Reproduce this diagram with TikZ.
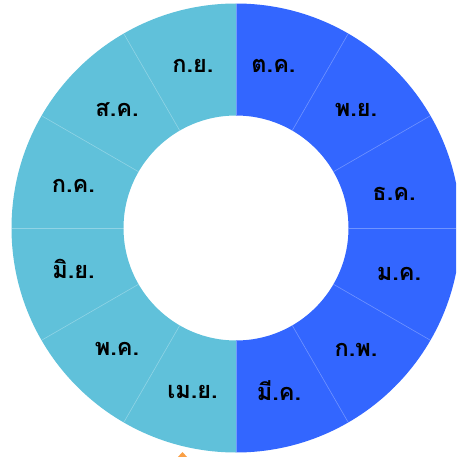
\documentclass[tikz,border=0pt]{standalone}
\usepackage{fontspec}
\newfontfamily\thaifont[Script=Thai]{Loma}
\definecolor{segblue}{RGB}{51,102,255}
\definecolor{seglight}{RGB}{96,193,218}
\definecolor{markorange}{RGB}{250,160,70}
\tikzset{
  lbl/.style={anchor=base, font=\thaifont\bfseries\fontsize{23.5}{23.5}\selectfont, text=black, inner sep=0pt},
  sep/.style={draw=white, draw opacity=0.3, line width=0.6pt}
}
\begin{document}
\begin{tikzpicture}[x=1pt,y=1pt]
\useasboundingbox (0,0) rectangle (456,-457);
\clip (0,0) rectangle (456,-457);
\coordinate (c) at (236,-228);
\begin{scope}[shift={(236,-228)}]
  \fill[segblue] (90:224.5) arc[start angle=90,end angle=-90,radius=224.5] -- (-90:112.5) arc[start angle=-90,end angle=90,radius=112.5] -- cycle;
  \fill[seglight] (90:224.5) arc[start angle=90,end angle=270,radius=224.5] -- (270:112.5) arc[start angle=270,end angle=90,radius=112.5] -- cycle;
  \foreach \a in {0,30,...,330} {
    \draw[sep] (\a:112.5) -- (\a:224.5);
  }
\end{scope}
\node[lbl] (oct) at (273.5,-73) {ต.ค.};
\node[lbl] (nov) at (356,-117) {พ.ย.};
\node[lbl] (dec) at (394,-200) {ธ.ค.};
\node[lbl] (jan) at (399,-280) {ม.ค.};
\node[lbl] (feb) at (356,-356) {ก.พ.};
\node[lbl] (mar) at (279,-400) {มี.ค.};
\node[lbl] (apr) at (192.5,-398) {เม.ย.};
\node[lbl] (may) at (117,-355) {พ.ค.};
\node[lbl] (jun) at (73.5,-278) {มิ.ย.};
\node[lbl] (jul) at (73.5,-192) {ก.ค.};
\node[lbl] (aug) at (117,-117) {ส.ค.};
\node[lbl] (sep) at (193,-73) {ก.ย.};
\fill[markorange] (182.5,-452) -- (188,-458) -- (177,-458) -- cycle;
\end{tikzpicture}
\end{document}
